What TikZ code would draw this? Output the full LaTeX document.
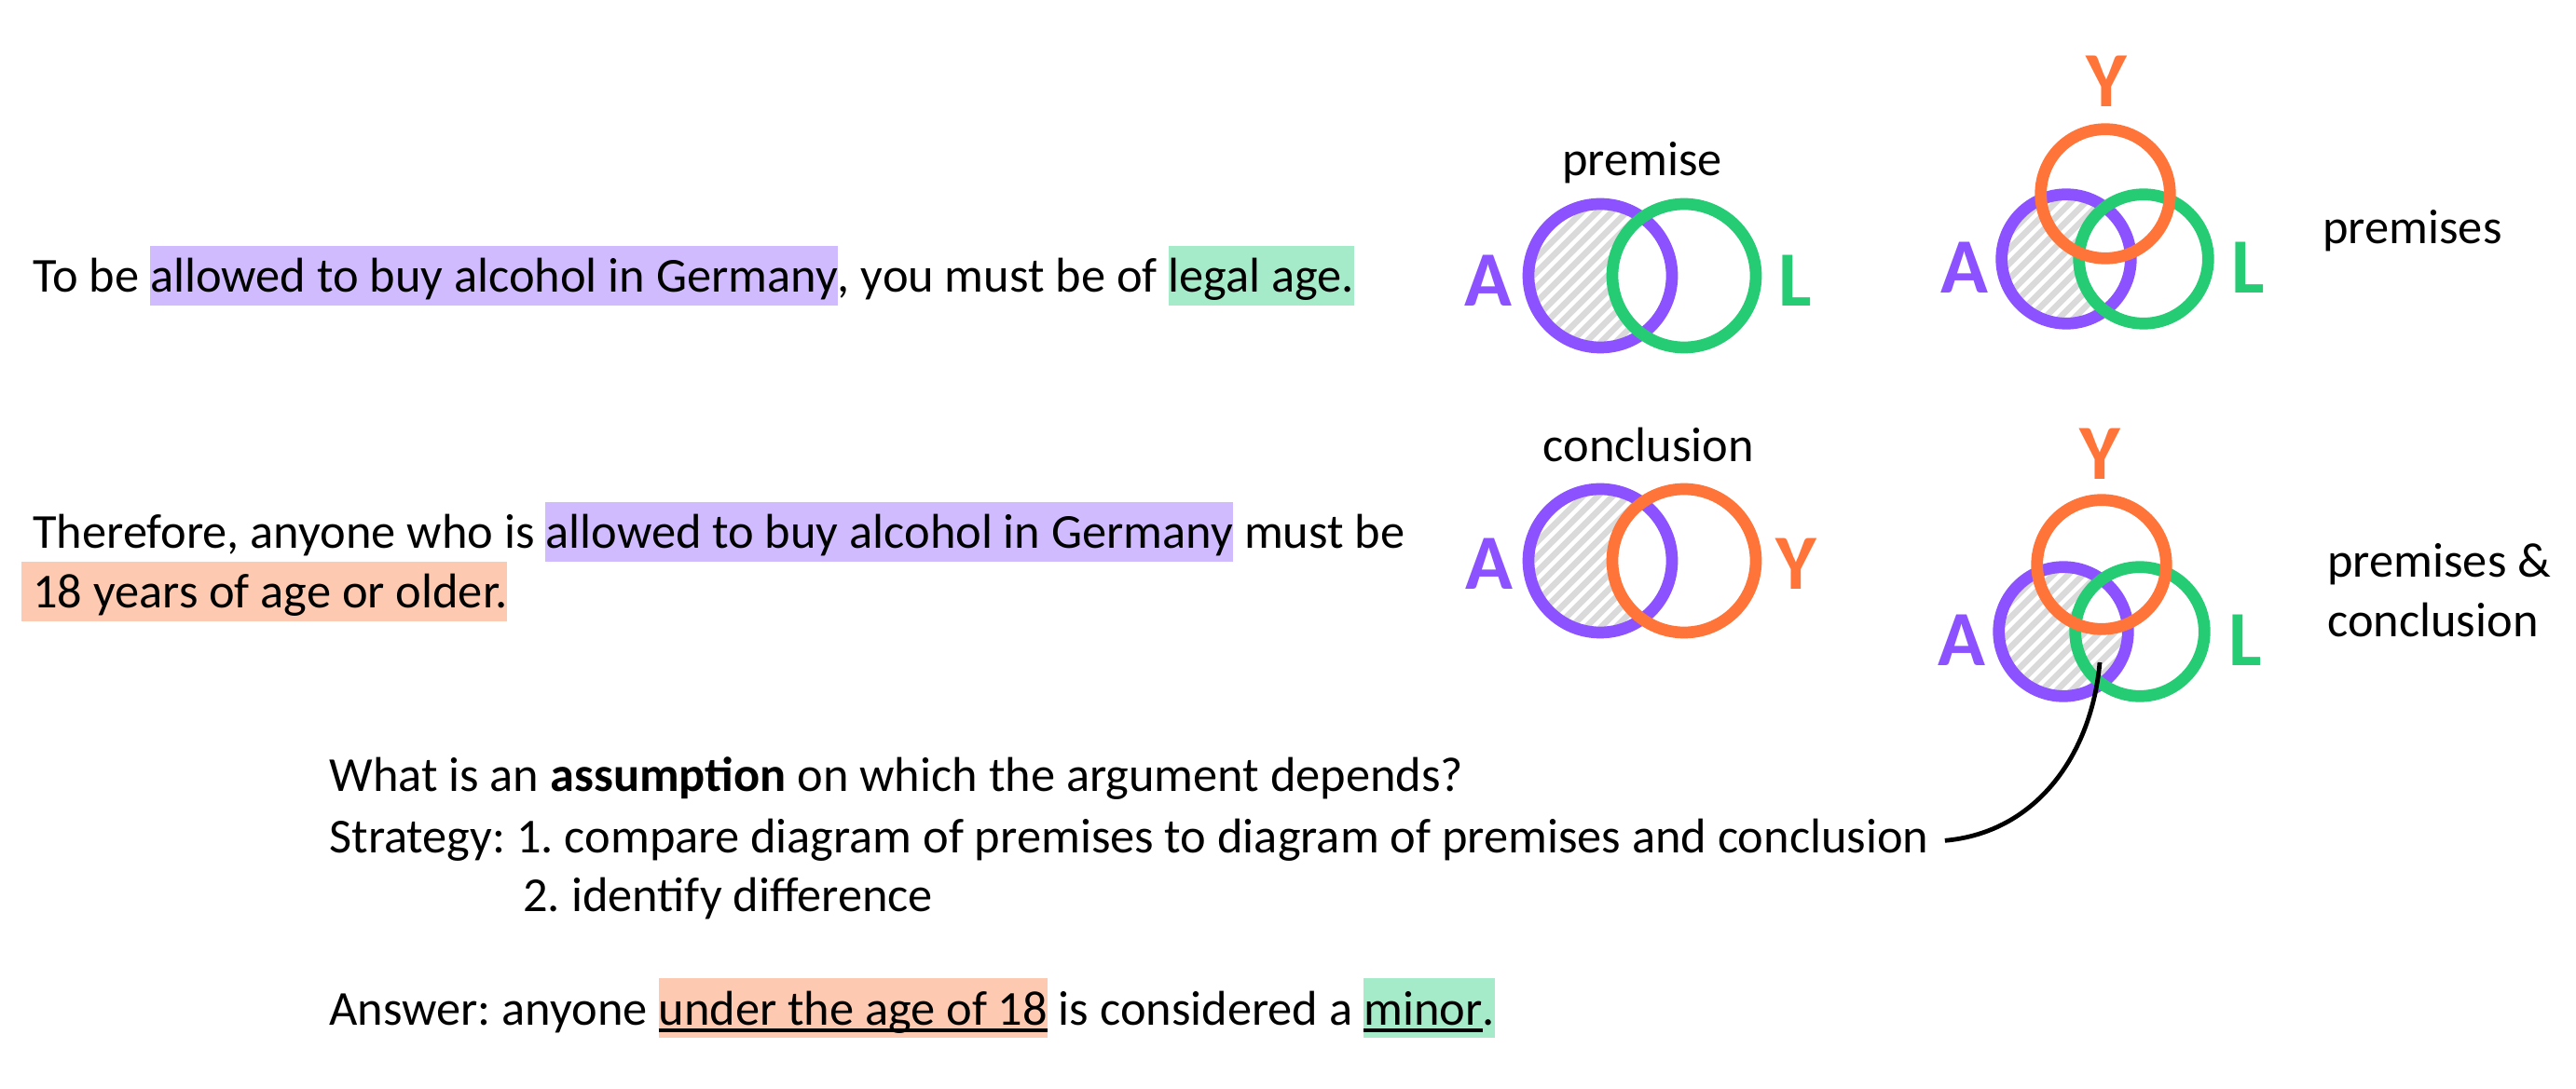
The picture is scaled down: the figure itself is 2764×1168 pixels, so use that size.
\documentclass[tikz,border=0pt]{standalone}
\usepackage{fontspec}
\setmainfont{Carlito}
\frenchspacing
\definecolor{ringpurple}{HTML}{8C52FF}
\definecolor{ringgreen}{HTML}{26CC74}
\definecolor{ringorange}{HTML}{FF7539}
\definecolor{purplehl}{HTML}{D0BBFF}
\definecolor{greenhl}{HTML}{A6EBC9}
\definecolor{orangehl}{HTML}{FDC9B1}
\definecolor{hatchgray}{HTML}{DADADA}
\newcommand{\txtsize}{\fontsize{26.2pt}{32pt}\selectfont}
\newcommand{\lblsize}{\fontsize{42pt}{50pt}\selectfont\bfseries}
\newcommand{\hilite}[2]{{\setlength{\fboxsep}{0pt}\colorbox{#1}{\rule[-0.27em]{0pt}{1.22em}#2}}}
\newsavebox\ulbox
\newcommand{\ulin}[1]{\sbox\ulbox{#1}\rlap{\rule[-0.15em]{\wd\ulbox}{0.065em}}\usebox\ulbox}
\newcommand{\hatchdisk}[3]{%
  \begin{scope}
    \clip (#1,#2) circle[radius=#3];
    \fill[hatchgray] (#1,#2) circle[radius=#3];
    \foreach \k in {-240,-224,...,240}
      \draw[white, line width=2.2pt] ({#1+\k-120},{#2-120}) -- ({#1+\k+120},{#2+120});
  \end{scope}}
\tikzset{
  txt/.style={inner sep=0pt, anchor=base west, font=\txtsize, text=black},
  setlbl/.style={inner sep=0pt, anchor=base, font=\lblsize},
  purplering/.style={draw=ringpurple, line width=6.35pt},
  greenring/.style={draw=ringgreen, line width=6.35pt},
  orangering/.style={draw=ringorange, line width=6.35pt},
  conn/.style={draw=black, line width=2.4pt}}

\begin{document}
\begin{tikzpicture}[x=0.5pt, y=0.5pt]
  \fill[white] (0,0) rectangle (2764,1168);
  % argument
  \node[txt] (premtxt) at (35,854) {To be \hilite{purplehl}{allowed to buy alcohol in Germany}, you must be of \hilite{greenhl}{legal age.}};
  \node[txt] (conctxt) at (35,579) {Therefore, anyone who is \hilite{purplehl}{allowed to buy alcohol in Germany} must be};
  \node[txt] (conctwo) at (23,515) {\hilite{orangehl}{\hspace{6pt}18 years of age or older.}};
  \node[txt] (quest) at (353,318) {What is an \textbf{assumption} on which the argument depends?};
  \node[txt] (strat) at (353,252) {Strategy: 1. compare diagram of premises to diagram of premises and conclusion};
  \node[txt] (stepb) at (561,189) {2. identify difference};
  \node[txt] (answ) at (353,68) {Answer: anyone \hilite{orangehl}{\ulin{under the age of 18}} is considered a \hilite{greenhl}{\ulin{minor}.}};

  % premise
  \hatchdisk{1717}{872}{77}
  \fill[white] (1807,872) circle[radius=77];
  \draw[purplering] (1717,872) circle[radius=77];
  \draw[greenring] (1807,872) circle[radius=77];
  \node[setlbl, text=ringpurple] (premA) at (1597,839) {A};
  \node[setlbl, text=ringgreen] (premL) at (1926,839) {L};
  \node[txt, anchor=base] (premhead) at (1762,979) {premise};

  % conclusion
  \hatchdisk{1717}{566}{77}
  \fill[white] (1807,566) circle[radius=77];
  \draw[purplering] (1717,566) circle[radius=77];
  \draw[orangering] (1807,566) circle[radius=77];
  \node[setlbl, text=ringpurple] (concA) at (1598,535) {A};
  \node[setlbl, text=ringorange] (concY) at (1927,535) {Y};
  \node[txt, anchor=base] (conchead) at (1769,672) {conclusion};

  % premises
  \hatchdisk{2217}{890}{69.3}
  \fill[white] (2300,890) circle[radius=69.3];
  \draw[purplering] (2217,890) circle[radius=69.3];
  \draw[greenring] (2300,890) circle[radius=69.3];
  \draw[orangering] (2259,960) circle[radius=69.3];
  \node[setlbl, text=ringorange] (allY) at (2260,1053) {Y};
  \node[setlbl, text=ringpurple] (allA) at (2108,853) {A};
  \node[setlbl, text=ringgreen] (allL) at (2412,853) {L};
  \node[txt] (allhead) at (2492,906) {premises};

  % premises and conclusion
  \hatchdisk{2214}{490}{69.3}
  \begin{scope}
    \clip (2296,490) circle[radius=69.3];
    \fill[white] (2255,562) circle[radius=69.3];
  \end{scope}
  \draw[purplering] (2214,490) circle[radius=69.3];
  \draw[greenring] (2296,490) circle[radius=69.3];
  \draw[orangering] (2255,562) circle[radius=69.3];
  \node[setlbl, text=ringorange] (bothY) at (2253,653) {Y};
  \node[setlbl, text=ringpurple] (bothA) at (2105,453) {A};
  \node[setlbl, text=ringgreen] (bothL) at (2409,453) {L};
  \node[txt] (bothhead) at (2497,548) {premises \&};
  \node[txt] (bothtwo) at (2497,484) {conclusion};

  \coordinate (lens) at (2253,457);
  \draw[conn] ([xshift=8.5pt]strat.east) to[out=5, in=-95] (lens);
\end{tikzpicture}
\end{document}
